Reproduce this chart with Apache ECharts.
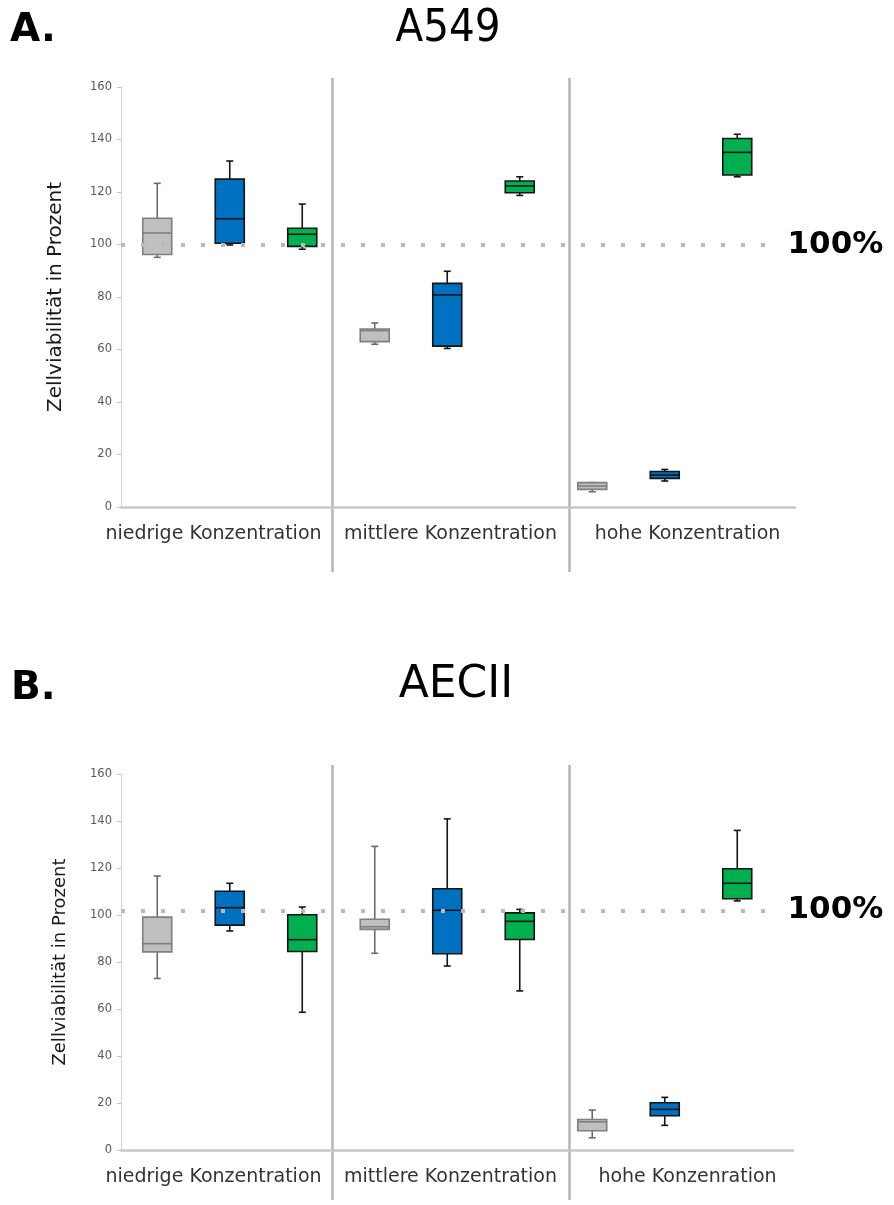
<!DOCTYPE html>
<html><head><meta charset="utf-8">
<script src="https://cdn.jsdelivr.net/npm/echarts@6/dist/echarts.min.js"></script>
<style>html,body{margin:0;padding:0;background:#fff}#c{width:894px;height:1205px}</style>
</head><body><div id="c"></div>
<script>
// ---- data ----
const groupsA = ['niedrige Konzentration', 'mittlere Konzentration', 'hohe Konzentration'];
const groupsB = ['niedrige Konzentration', 'mittlere Konzentration', 'hohe Konzenration'];
const seriesNames = ['grau', 'blau', 'grün'];
const titleA = 'A549';
const titleB = 'AECII';
const yName = 'Zellviabilität in Prozent';
const refLabel = '100%';
const refA = 100;
const refB = 102;
// each box: [min, Q1, median, Q3, max] per concentration group
const a549Gray  = [[95.1, 96.2, 104.4, 110.0, 123.3], [62.0, 63.0, 67.2, 67.8, 70.1], [5.8, 6.7, 8.0, 9.3, 9.3]];
const a549Blue  = [[99.8, 100.5, 109.8, 124.9, 131.8], [60.4, 61.3, 80.8, 85.2, 89.8], [9.9, 10.9, 12.2, 13.5, 14.3]];
const a549Green = [[98.2, 99.3, 103.9, 106.2, 115.4], [118.7, 119.7, 122.3, 124.2, 125.8], [125.8, 126.5, 135.1, 140.4, 142.0]];
const aeciiGray  = [[73.0, 84.3, 87.8, 99.1, 116.6], [83.7, 93.9, 95.0, 98.2, 129.2], [5.2, 8.2, 12.0, 13.0, 17.0]];
const aeciiBlue  = [[93.2, 95.7, 103.1, 110.1, 113.5], [78.3, 83.5, 102.0, 111.2, 140.9], [10.5, 14.6, 17.3, 20.1, 22.4]];
const aeciiGreen = [[58.6, 84.5, 89.5, 100.1, 103.4], [67.7, 89.6, 97.3, 100.9, 102.4], [106.0, 106.9, 113.5, 119.7, 136.0]];

// ---- styles ----
const styles = [
  { fill: '#bfbfbf', stroke: '#7f7f7f', whisker: '#6a6a6a' },
  { fill: '#0070c0', stroke: '#141414', whisker: '#141414' },
  { fill: '#00b050', stroke: '#141414', whisker: '#141414' }
];
const FONT = '"DejaVu Sans", sans-serif';
const FONTC = '"DejaVu Sans Condensed", "DejaVu Sans", sans-serif';

function cats(groups) {
  const out = [];
  groups.forEach(g => seriesNames.forEach(s => out.push(g + ' ' + s)));
  return out;
}
function toData(boxes, offset) {
  return boxes.map((b, gi) => [gi * 3 + offset].concat(b));
}
function boxRender(st) {
  return function (params, api) {
    const x = api.value(0);
    const p = v => api.coord([x, v]);
    const pMin = p(api.value(1)), pQ1 = p(api.value(2)), pMed = p(api.value(3)),
          pQ3 = p(api.value(4)), pMax = p(api.value(5));
    const band = api.size([1, 0])[0];
    const bw = band * 0.4;
    const cap = 7;
    const cx = pMin[0];
    const ls = { stroke: st.whisker, lineWidth: 1.6 };
    return {
      type: 'group',
      children: [
        { type: 'line', shape: { x1: cx, y1: pMax[1], x2: cx, y2: pQ3[1] }, style: ls },
        { type: 'line', shape: { x1: cx, y1: pQ1[1], x2: cx, y2: pMin[1] }, style: ls },
        { type: 'line', shape: { x1: cx - cap / 2, y1: pMax[1], x2: cx + cap / 2, y2: pMax[1] }, style: ls },
        { type: 'line', shape: { x1: cx - cap / 2, y1: pMin[1], x2: cx + cap / 2, y2: pMin[1] }, style: ls },
        { type: 'rect', shape: { x: cx - bw / 2, y: pQ3[1], width: bw, height: pQ1[1] - pQ3[1] },
          style: { fill: st.fill, stroke: st.stroke, lineWidth: 1.6 } },
        { type: 'line', shape: { x1: cx - bw / 2, y1: pMed[1], x2: cx + bw / 2, y2: pMed[1] },
          style: { stroke: st.stroke, lineWidth: 1.6 } }
      ]
    };
  };
}

function panel(base, groups, boxesList, ref, nameSize, nameGap, labelOffset) {
  const xAxes = [
    { gridIndex: base, type: 'category', data: cats(groups), show: false },
    { gridIndex: base + 1, type: 'category', data: groups, offset: labelOffset,
      axisLine: { show: false }, axisTick: { show: false },
      axisLabel: { interval: 0, fontSize: 19, color: '#333', fontFamily: FONT, margin: 18 },
      splitLine: { show: true, interval: 0, showMinLine: false, showMaxLine: false,
                   lineStyle: { color: '#b5b5b5', width: 2.5 } } },
    { gridIndex: base + 2, type: 'value', min: 0, max: 1,
      axisLine: { show: true, lineStyle: { color: '#c8c8c8', width: 2.5 } },
      axisTick: { show: false }, axisLabel: { show: false }, splitLine: { show: false } }
  ];
  const yAxes = [
    { gridIndex: base, type: 'value', min: 0, max: 160, interval: 20,
      name: yName, nameLocation: 'middle', nameRotate: 90, nameGap: nameGap,
      nameTextStyle: { fontSize: nameSize, color: '#1a1a1a', fontFamily: FONT },
      axisLine: { show: true, lineStyle: { color: '#d4d4d4', width: 1 } },
      axisTick: { show: true, length: 4, lineStyle: { color: '#c4c4c4' } },
      axisLabel: { fontSize: 11.5, color: '#595959', fontFamily: FONT, margin: 9 },
      splitLine: { show: false } },
    { gridIndex: base + 1, type: 'value', min: 0, max: 1, show: false },
    { gridIndex: base + 2, type: 'value', min: 0, max: 1, show: false }
  ];
  const series = boxesList.map((boxes, si) => {
    const s = {
      type: 'custom', name: seriesNames[si], xAxisIndex: base, yAxisIndex: base,
      renderItem: boxRender(styles[si]), data: toData(boxes, si),
      encode: { x: 0, y: [1, 2, 3, 4, 5] }, z: 3, silent: true
    };
    if (si === 2) {
      s.markLine = {
        silent: true, symbol: 'none', animation: false, z: 5,
        lineStyle: { type: [4, 16], width: 4, color: '#b9b9b9', cap: 'butt' },
        label: { show: true, position: 'end', formatter: refLabel, distance: 14,
                 fontSize: 31, fontWeight: 'bold', color: '#000', fontFamily: FONT },
        data: [{ yAxis: ref }]
      };
    }
    return s;
  });
  return { xAxes, yAxes, series };
}

const pA = panel(0, groupsA, [a549Gray, a549Blue, a549Green], refA, 20, 55, -65);
const pB = panel(3, groupsB, [aeciiGray, aeciiBlue, aeciiGreen], refB, 18, 52, -50);

const chart = echarts.init(document.getElementById('c'), null, { renderer: 'canvas' });
chart.setOption({
  animation: false,
  backgroundColor: '#fff',
  grid: [
    { left: 121, top: 87, width: 652.5, height: 420 },
    { left: 95, top: 78, width: 711, height: 494 },
    { left: 121, top: 87, width: 674, height: 420 },
    { left: 121, top: 774, width: 652.5, height: 376 },
    { left: 95, top: 765, width: 711, height: 435 },
    { left: 121, top: 774, width: 672, height: 376 }
  ],
  xAxis: pA.xAxes.concat(pB.xAxes),
  yAxis: pA.yAxes.concat(pB.yAxes),
  series: pA.series.concat(pB.series),
  graphic: [
    { type: 'text', x: 10, y: 31, style: { text: 'A.', font: 'bold 39px "DejaVu Sans"', fill: '#000', verticalAlign: 'middle', align: 'left' } },
    { type: 'text', x: 448, y: 29, style: { text: titleA, font: '45px ' + FONTC, fill: '#000', verticalAlign: 'middle', align: 'center' } },
    { type: 'text', x: 11, y: 689, style: { text: 'B.', font: 'bold 39px "DejaVu Sans"', fill: '#000', verticalAlign: 'middle', align: 'left' } },
    { type: 'text', x: 456, y: 686, style: { text: titleB, font: '44px ' + FONT, fill: '#000', verticalAlign: 'middle', align: 'center' } }
  ]
});
</script></body></html>
